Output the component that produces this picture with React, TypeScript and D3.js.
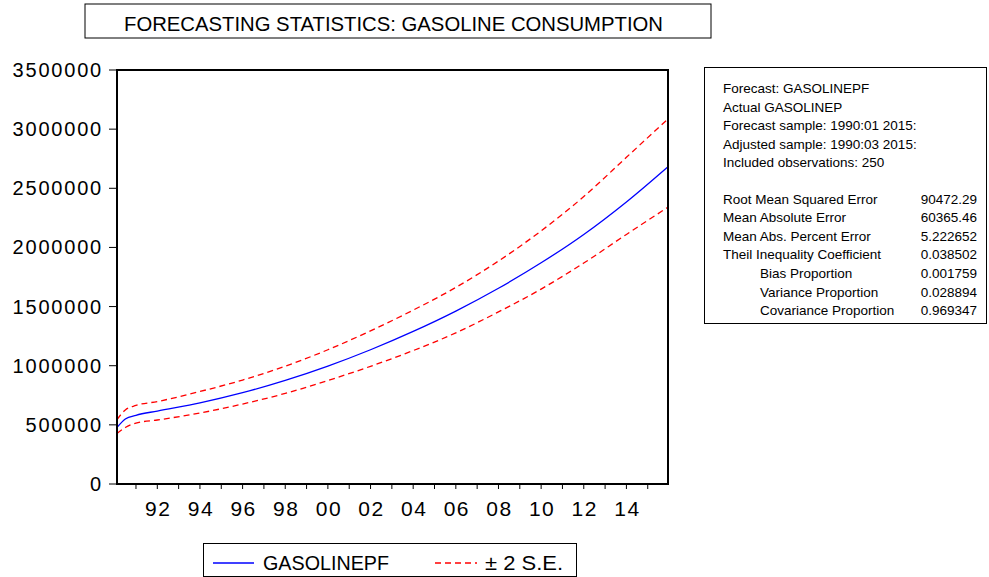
import React from "react";
import * as d3 from "d3";

// ---- data ----
const years = [1990.11, 1990.5, 1991, 1992, 1994, 1996, 1998, 2000, 2002, 2004, 2006, 2008, 2010, 2012, 2014, 2015.95];
const forecast = [478000, 550000, 581000, 617000, 686000, 772000, 876000, 997000, 1135000, 1290000, 1462000, 1655000, 1870000, 2110000, 2385000, 2683000];
const upperSE = [545000, 626000, 664000, 697000, 782000, 879000, 996000, 1135000, 1295000, 1470000, 1662000, 1885000, 2140000, 2430000, 2762000, 3086000];
const lowerSE = [427000, 478000, 515000, 541000, 600000, 676000, 766000, 875000, 995000, 1128000, 1278000, 1455000, 1648000, 1868000, 2110000, 2340000];

const yTicks = [0, 500000, 1000000, 1500000, 2000000, 2500000, 3000000, 3500000];
const xTickYears = d3.range(1991, 2016);
const xLabelYears = [1992, 1994, 1996, 1998, 2000, 2002, 2004, 2006, 2008, 2010, 2012, 2014];

const statsHeader = [
  "Forecast: GASOLINEPF",
  "Actual GASOLINEP",
  "Forecast sample: 1990:01 2015:",
  "Adjusted sample: 1990:03 2015:",
  "Included observations: 250",
];
const statLabels = [
  "Root Mean Squared Error",
  "Mean Absolute Error",
  "Mean Abs. Percent Error",
  "Theil Inequality Coefficient",
  "Bias Proportion",
  "Variance Proportion",
  "Covariance Proportion",
];
const statIndent = [false, false, false, false, true, true, true];
const statValues = ["90472.29", "60365.46", "5.222652", "0.038502", "0.001759", "0.028894", "0.969347"];

const title = "FORECASTING STATISTICS: GASOLINE CONSUMPTION";
const legendLabels = ["GASOLINEPF", "± 2 S.E."];

// ---- layout ----
const W = 989, H = 577;
const L = 117, R = 668, T = 70, B = 484;
const FONT = "'Liberation Sans', Arial, sans-serif";

export default function App() {
  const x = d3.scaleLinear().domain([1990.11, 2015.95]).range([L, R]);
  const y = d3.scaleLinear().domain([0, 3500000]).range([B, T]);
  const line = d3
    .line<number>()
    .x((_, i) => x(years[i]))
    .y((d) => y(d))
    .curve(d3.curveMonotoneX);

  const headerY0 = 93;
  const lineH = 18.6;
  const statY0 = headerY0 + lineH * 6 - 1;

  return (
    <svg
      width={W}
      height={H}
      style={{ position: "absolute", left: 0, top: 0, background: "#fff" }}
      fontFamily={FONT}
    >
      {/* title */}
      <rect x={85} y={4} width={626} height={34} fill="#fff" stroke="#000" strokeWidth={1} />
      <text x={124} y={31} fontSize={21} textLength={539} lengthAdjust="spacingAndGlyphs" fill="#000">
        {title}
      </text>

      {/* y axis ticks & labels */}
      {yTicks.map((t) => (
        <g key={t}>
          <line x1={L - 8} x2={L} y1={y(t)} y2={y(t)} stroke="#000" strokeWidth={1} />
          <text
            x={103}
            y={y(t) + 7}
            fontSize={20}
            textAnchor="end"
            letterSpacing={1.8}
            fill="#000"
          >
            {d3.format("d")(t)}
          </text>
        </g>
      ))}

      {/* x ticks */}
      {xTickYears.map((yr) => (
        <line key={yr} x1={x(yr)} x2={x(yr)} y1={B} y2={B + 5} stroke="#000" strokeWidth={1} />
      ))}
      {xLabelYears.map((yr) => (
        <text key={yr} x={x(yr) + 1} y={516} fontSize={21} textAnchor="middle" letterSpacing={1.5} fill="#000">
          {String(yr % 100).padStart(2, "0")}
        </text>
      ))}

      {/* series */}
      <path d={line(upperSE) || ""} fill="none" stroke="#ff0000" strokeWidth={1.3} strokeDasharray="6,4" />
      <path d={line(lowerSE) || ""} fill="none" stroke="#ff0000" strokeWidth={1.3} strokeDasharray="6,4" />
      <path d={line(forecast) || ""} fill="none" stroke="#0000ff" strokeWidth={1.3} />

      {/* frame */}
      <rect x={L} y={T} width={R - L} height={B - T} fill="none" stroke="#000" strokeWidth={2} />

      {/* stats box */}
      <rect x={704.5} y={67.5} width={282} height={256} fill="#fff" stroke="#000" strokeWidth={1} />
      {statsHeader.map((s, i) => (
        <text key={s} x={723} y={headerY0 + i * lineH} fontSize={13.5} fill="#000">
          {s}
        </text>
      ))}
      {statLabels.map((s, i) => (
        <g key={s}>
          <text x={statIndent[i] ? 760 : 723} y={statY0 + i * lineH} fontSize={13.5} fill="#000">
            {s}
          </text>
          <text x={977} y={statY0 + i * lineH} fontSize={13.5} textAnchor="end" fill="#000">
            {statValues[i]}
          </text>
        </g>
      ))}

      {/* legend */}
      <rect x={203.5} y={543.5} width={373} height={33} fill="#fff" stroke="#000" strokeWidth={1} />
      <line x1={213} x2={254} y1={563} y2={563} stroke="#0000ff" strokeWidth={1.3} />
      <text x={263} y={570} fontSize={21} textLength={126} lengthAdjust="spacingAndGlyphs" fill="#000">
        {legendLabels[0]}
      </text>
      <line x1={435} x2={477} y1={563} y2={563} stroke="#ff0000" strokeWidth={1.3} strokeDasharray="6,4" />
      <text x={485} y={570} fontSize={21} textLength={78} lengthAdjust="spacingAndGlyphs" fill="#000">
        {legendLabels[1]}
      </text>
    </svg>
  );
}
